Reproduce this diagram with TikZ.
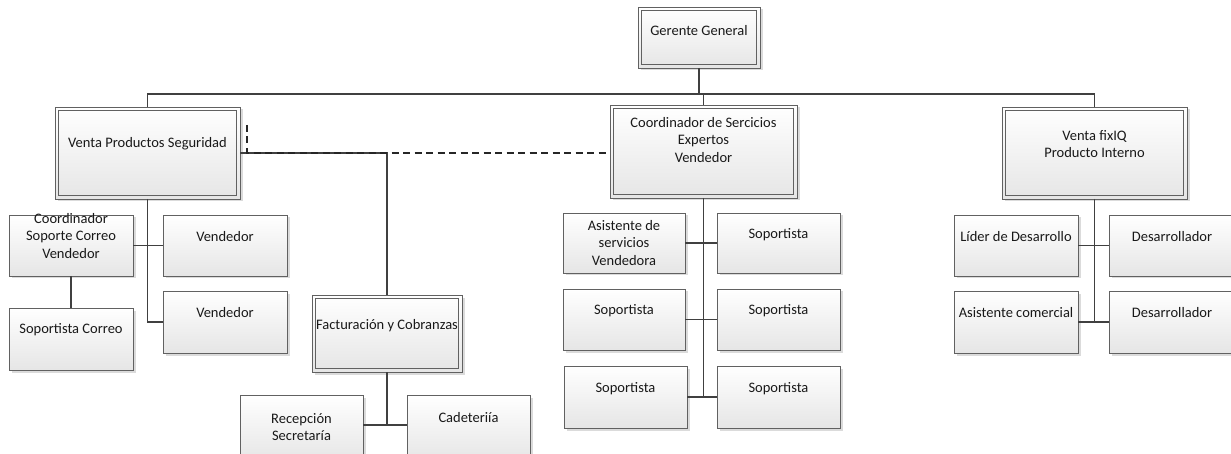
\documentclass[tikz,border=0pt]{standalone}
\usepackage{fontspec}
\setmainfont{Carlito}
\usetikzlibrary{shadows}

% Box with given corners (x1,y1)-(x2,y2); its label is centred at height ty
\newcommand\orgbox[8][unitbox]{%
  \pgfmathsetmacro\obxcx{(#3+#5)/2}%
  \pgfmathsetmacro\obxcy{(#4+#6)/2}%
  \pgfmathsetmacro\obxw{#5-#3}%
  \pgfmathsetmacro\obxh{#6-#4}%
  \node[#1, minimum width=\obxw pt, minimum height=\obxh pt] (#2) at (\obxcx,\obxcy) {};
  \node[boxtext] (#2-t) at (\obxcx,#7) {#8};
}
% Head unit: same box with a second frame drawn inside it
\newcommand\headbox[7]{%
  \orgbox[unitbox]{#1}{#2}{#3}{#4}{#5}{#6}{#7}%
  \draw[innerframe] ([shift={(3.2pt,-3.2pt)}]#1.north west) rectangle ([shift={(-3.2pt,3.2pt)}]#1.south east);
}

\tikzset{
  unitbox/.style={rectangle, inner sep=0pt, outer sep=0pt,
    draw=black!62, line width=0.9pt,
    top color=white, bottom color=black!10,
    general shadow={fill=black!14, shadow xshift=2.5pt, shadow yshift=-2.5pt}},
  innerframe/.style={draw=black!62, line width=0.9pt},
  boxtext/.style={inner sep=0pt, align=center, text=black!90,
    font=\fontsize{14.5}{17.5}\selectfont},
  link/.style={draw=black!75, line width=1.5pt},
  dotlink/.style={draw=black!85, line width=1.5pt, dash pattern=on 7pt off 4.5pt},
}

\begin{document}
\begin{tikzpicture}[x=1pt,y=-1pt]
\useasboundingbox (0,0) rectangle (1231,454);

% ---- top level
\headbox{gg}{638}{7}{760}{68}{31}{Gerente General}

% ---- sales of security products
\headbox{vps}{55}{107}{240}{199}{144}{Venta Productos Seguridad}
\orgbox{csc}{9}{215}{133}{276}{236}{Coordinador\\Soporte Correo\\Vendedor}
\orgbox{va}{163}{215}{287}{276}{237}{Vendedor}
\orgbox{vb}{163}{291}{287}{353}{313}{Vendedor}
\orgbox{sc}{9}{308}{133}{370}{330}{Soportista Correo}
\headbox{fc}{312}{295}{462}{372}{326}{Facturación y Cobranzas}
\orgbox{rs}{240}{395}{363}{462}{427}{Recepción\\Secretaría}
\orgbox{cad}{407}{395}{530}{462}{418}{Cadeteriía}

% ---- expert services
\headbox{cse}{610}{105}{797}{198}{140}{Coordinador de Sercicios\\Expertos\\Vendedor}
\orgbox{asv}{563}{213}{685}{273}{243}{Asistente de\\servicios\\Vendedora}
\orgbox{sa}{717}{213}{840}{273}{235}{Soportista}
\orgbox{sb}{563}{289}{685}{350}{311}{Soportista}
\orgbox{sd}{717}{289}{840}{350}{311}{Soportista}
\orgbox{se}{564}{366}{687}{428}{389}{Soportista}
\orgbox{sf}{717}{366}{840}{428}{389}{Soportista}

% ---- in-house product
\headbox{vfx}{1002}{107}{1187}{199}{144}{Venta fixIQ\\Producto Interno}
\orgbox{ld}{954}{215}{1078}{276}{237}{Líder de Desarrollo}
\orgbox{da}{1109}{215}{1235}{276}{237}{Desarrollador}
\orgbox{ac}{954}{291}{1078}{353}{313}{Asistente comercial}
\orgbox{db}{1109}{291}{1235}{353}{313}{Desarrollador}

% ---- connectors
\coordinate (bus) at (0,94);
\draw[link] (gg.south) -- (gg.south |- bus);
\draw[link] (vps.north) -- (vps.north |- bus) -| (vfx.north);
\draw[link] (cse.north) -- (cse.north |- bus);

\coordinate (vpsend) at (vps.south |- vb.west);
\draw[link] (vps.south) -- (vpsend) -- (vb.west);
\draw[link] (csc.east |- va.west) -- (va.west);
\draw[link] (csc.south) -- (sc.north);

\coordinate (fcturn) at (fc.north |- 0,153);
\draw[link] (vps.east |- fcturn) -- (fcturn) -- (fc.north);
\draw[link] (fc.south) -- (fc.south |- 0,425);
\draw[link] (rs.east |- 0,425) -- (cad.west |- 0,425);

\coordinate (dashtop) at (247,125);
\draw[dotlink] (dashtop) -- (dashtop |- fcturn) -- (cse.west |- fcturn);

\draw[link] (cse.south) -- (cse.south |- sf.west);
\draw[link] (asv.east) -- (sa.west);
\draw[link] (sb.east) -- (sd.west);
\draw[link] (se.east |- sf.west) -- (sf.west);

\draw[link] (vfx.south) -- (vfx.south |- db.west);
\draw[link] (ld.east |- da.west) -- (da.west);
\draw[link] (ac.east |- db.west) -- (db.west);
\end{tikzpicture}
\end{document}
